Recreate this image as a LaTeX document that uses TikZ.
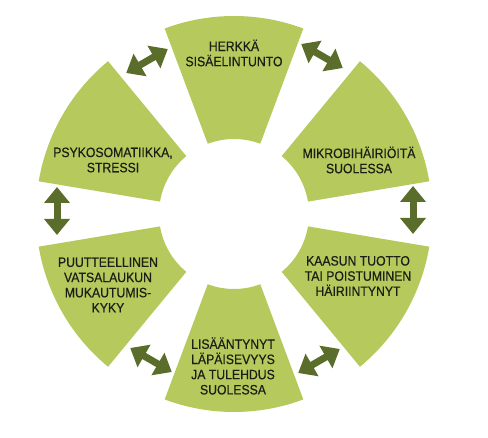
\documentclass[tikz,border=0pt]{standalone}
\usepackage{fontspec}
\setmainfont[FakeStretch=0.9,FakeBold=0.4]{Liberation Sans}
\usetikzlibrary{arrows.meta,calc}
\definecolor{segc}{RGB}{181,201,92}
\definecolor{arrc}{RGB}{90,109,42}
\definecolor{txtc}{RGB}{28,30,22}
\begin{document}
\begin{tikzpicture}[x=1pt,y=1pt,
  seg/.style={fill=segc,draw=none},
  lbl/.style={align=center,inner sep=0pt,text=txtc,font=\fontsize{13.6}{15.2}\selectfont},
  dblarrow/.style={draw=arrc,line width=7pt,{Triangle[width=25pt,length=16pt]}-{Triangle[width=25pt,length=16pt]}}]
\useasboundingbox (0,0) rectangle (488,438);
\coordinate (C) at (234,224);
\def\rout{198}
\def\rin{75}
\def\ha{20.5}
\foreach \a in {90,30,-30,-90,-150,150}{
  \fill[seg] ($(C)+(\a-\ha:\rout)$) arc[start angle=\a-\ha, end angle=\a+\ha, radius=\rout]
    -- ($(C)+(\a+\ha:\rin)$) arc[start angle=\a+\ha, end angle=\a-\ha, radius=\rin] -- cycle;
}
% labels
\node[lbl] (herk) at (234,385) {HERKKÄ\\SISÄELINTUNTO};
\node[lbl] (mikro) at (359,278) {MIKROBIHÄIRIÖITÄ\\SUOLESSA};
\node[lbl] (kaas) at (358,162) {KAASUN TUOTTO\\TAI POISTUMINEN\\HÄIRIINTYNYT};
\node[lbl] (lisa) at (233,72) {LISÄÄNTYNYT\\LÄPÄISEVYYS\\JA TULEHDUS\\SUOLESSA};
\node[lbl] (puut) at (108,153) {PUUTTEELLINEN\\VATSALAUKUN\\MUKAUTUMIS-\\KYKY};
\node[lbl] (psyk) at (113,278) {PSYKOSOMATIIKKA,\\STRESSI};
% arrow end points
\coordinate (r1) at (413,252);
\coordinate (r2) at (413,204);
\coordinate (l1) at (57,251);
\coordinate (l2) at (57,203);
\coordinate (tr1) at (301.2,394);
\coordinate (tr2) at (342.8,370);
\coordinate (tl1) at (126.2,365);
\coordinate (tl2) at (167.8,389);
\coordinate (bl1) at (130.2,90);
\coordinate (bl2) at (171.8,66);
\coordinate (br1) at (298.2,65);
\coordinate (br2) at (339.8,89);
\draw[dblarrow] (r1) -- (r2);
\draw[dblarrow] (l1) -- (l2);
\draw[dblarrow] (tr1) -- (tr2);
\draw[dblarrow] (tl1) -- (tl2);
\draw[dblarrow] (bl1) -- (bl2);
\draw[dblarrow] (br1) -- (br2);
\end{tikzpicture}
\end{document}
